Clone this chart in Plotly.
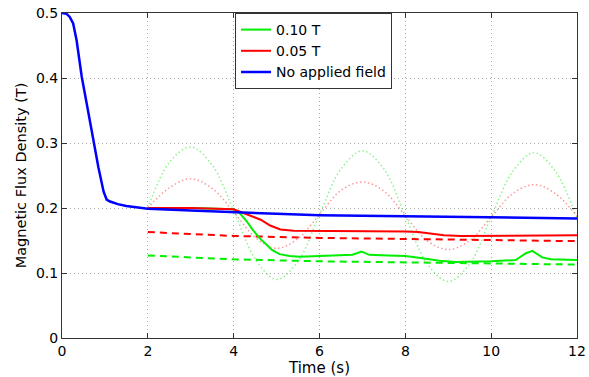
import plotly.graph_objects as go

# Blue: no applied field
t_blue = [0, 0.1, 0.18, 0.26, 0.34, 0.46, 0.6, 0.73, 0.85, 0.97, 1.04, 1.12, 1.3, 1.5, 2, 3, 4, 5, 6, 7, 8, 9, 10, 11, 12]
b_blue = [0.5, 0.499, 0.494, 0.484, 0.458, 0.402, 0.352, 0.305, 0.262, 0.225, 0.213, 0.210, 0.206, 0.203, 0.199, 0.196, 0.193, 0.191, 0.189, 0.188, 0.187, 0.186, 0.186, 0.185, 0.184]

# Green: 0.10 T
t_green = [2, 3, 4, 4.14, 4.3, 4.45, 4.6, 4.76, 4.9, 5.07, 5.3, 5.53, 6, 6.47, 6.77, 6.98, 7.16, 7.6, 8.0, 8.4, 8.8, 9.18, 9.6, 10.0, 10.57, 10.8, 10.96, 11.19, 11.39, 12]
b_green = [0.2, 0.2, 0.198, 0.192, 0.18, 0.166, 0.154, 0.143, 0.135, 0.129, 0.126, 0.125, 0.126, 0.127, 0.128, 0.133, 0.128, 0.127, 0.126, 0.1226, 0.119, 0.117, 0.117, 0.118, 0.12, 0.130, 0.134, 0.124, 0.121, 0.12]

# Red: 0.05 T
t_red = [2, 3, 4, 4.16, 4.4, 4.63, 4.85, 5.09, 5.4, 6, 6.5, 7, 7.5, 8.0, 8.3, 8.6, 8.9, 9.3, 10, 11, 12]
b_red = [0.2, 0.2, 0.198, 0.194, 0.188, 0.182, 0.173, 0.167, 0.165, 0.165, 0.165, 0.165, 0.164, 0.164, 0.163, 0.160, 0.158, 0.157, 0.157, 0.158, 0.158]

# Dashed references
t_dash = [2, 4, 6, 8, 10, 12]
b_red_dash = [0.163, 0.157, 0.154, 0.152, 0.150, 0.149]
b_green_dash = [0.127, 0.121, 0.118, 0.116, 0.114, 0.113]

# Dotted applied field waveforms
t_dot = [2, 2.5, 3, 3.5, 4, 4.5, 5, 5.5, 6, 6.5, 7, 7.5, 8, 8.5, 9, 9.5, 10, 10.5, 11, 11.5, 12]
b_green_dot = [0.200, 0.270, 0.294, 0.266, 0.196, 0.122, 0.090, 0.118, 0.190, 0.260, 0.288, 0.260, 0.188, 0.115, 0.087, 0.114, 0.186, 0.256, 0.285, 0.256, 0.184]
b_red_dot = [0.200, 0.231, 0.245, 0.230, 0.194, 0.155, 0.138, 0.153, 0.190, 0.227, 0.240, 0.226, 0.188, 0.150, 0.136, 0.150, 0.186, 0.222, 0.236, 0.222, 0.187]

x_ticks = [0, 2, 4, 6, 8, 10, 12]
y_ticks = [0, 0.1, 0.2, 0.3, 0.4, 0.5]
y_tick_text = ["0", "0.1", "0.2", "0.3", "0.4", "0.5"]

GREEN = "#00ee00"
RED = "#ff0000"
BLUE = "#0000ff"
FONT = "DejaVu Sans, Liberation Sans, Arial, sans-serif"

fig = go.Figure()
fig.add_trace(go.Scatter(x=t_dot, y=b_green_dot, mode="lines", line=dict(color="rgba(0,230,0,0.45)", width=1.5, dash="1.5px,2.5px", shape="spline"), showlegend=False))
fig.add_trace(go.Scatter(x=t_dot, y=b_red_dot, mode="lines", line=dict(color="rgba(255,0,0,0.4)", width=1.5, dash="1.5px,2.5px", shape="spline"), showlegend=False))
fig.add_trace(go.Scatter(x=t_dash, y=b_red_dash, mode="lines", line=dict(color=RED, width=2, dash="7px,5px"), showlegend=False))
fig.add_trace(go.Scatter(x=t_dash, y=b_green_dash, mode="lines", line=dict(color=GREEN, width=2, dash="7px,5px"), showlegend=False))
fig.add_trace(go.Scatter(x=t_green, y=b_green, mode="lines", name="0.10 T", line=dict(color=GREEN, width=2)))
fig.add_trace(go.Scatter(x=t_red, y=b_red, mode="lines", name="0.05 T", line=dict(color=RED, width=2)))
fig.add_trace(go.Scatter(x=t_blue, y=b_blue, mode="lines", name="No applied field", line=dict(color=BLUE, width=2.5)))

axis_common = dict(
    showline=True, linecolor="#333333", linewidth=1, mirror="ticks",
    ticks="inside", ticklen=5, tickcolor="#333333",
    showgrid=True, gridcolor="#aaaaaa", griddash="1px,3px", gridwidth=1,
    zeroline=False, tickfont=dict(size=14, color="black"), automargin=False,
)

fig.update_layout(
    width=589, height=377,
    margin=dict(l=62, r=12, t=13, b=39),
    paper_bgcolor="white", plot_bgcolor="white",
    font=dict(family=FONT, color="black"),
    xaxis=dict(range=[0, 12], tickvals=x_ticks, title=dict(text="Time (s)", font=dict(size=15), standoff=3), **axis_common),
    yaxis=dict(range=[0, 0.5], tickvals=y_ticks, ticktext=y_tick_text, title=dict(text="Magnetic Flux Density (T)", font=dict(size=14.5), standoff=5), **axis_common),
    legend=dict(x=0.336, y=1, xanchor="left", yanchor="top", bgcolor="white",
                bordercolor="#333333", borderwidth=1, font=dict(size=14),
                tracegroupgap=0, itemwidth=30),
    showlegend=True,
)

fig.write_html("out.html")
